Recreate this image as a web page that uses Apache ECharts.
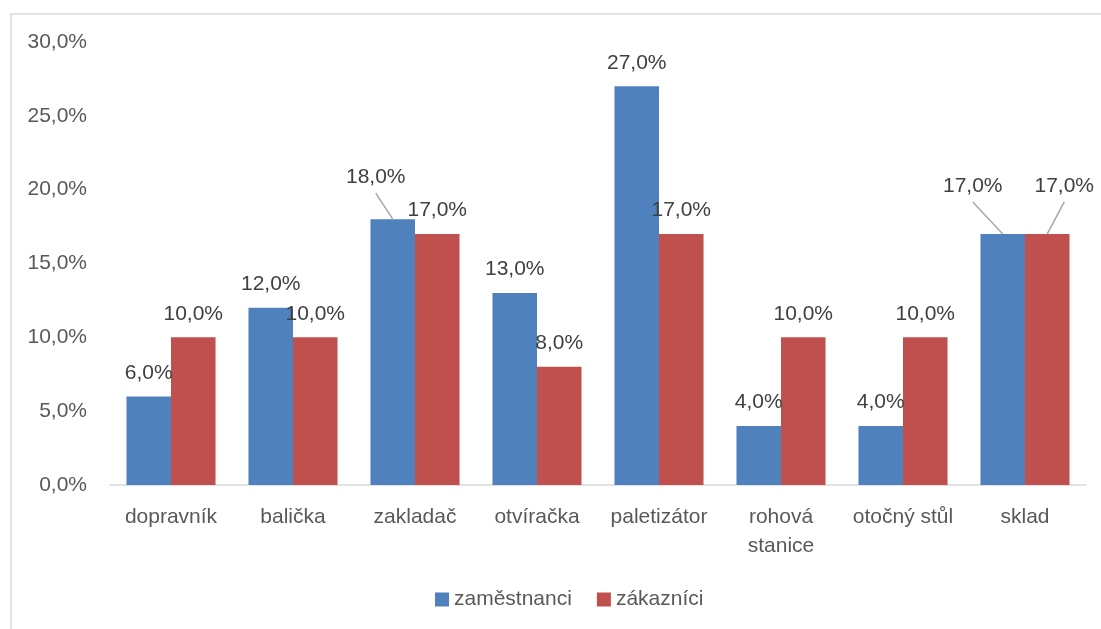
<!DOCTYPE html>
<html>
<head>
<meta charset="utf-8">
<script src="https://cdn.jsdelivr.net/npm/echarts@6/dist/echarts.min.js"></script>
<style>html,body{margin:0;padding:0;background:#fff}#c{width:1101px;height:629px}</style>
</head>
<body>
<div id="c"></div>
<script>
const categories = ['dopravník', 'balička', 'zakladač', 'otvíračka', 'paletizátor', 'rohová stanice', 'otočný stůl', 'sklad'];
const seriesNames = ['zaměstnanci', 'zákazníci'];
const zamestnanci = [6, 12, 18, 13, 27, 4, 4, 17];
const zakaznici = [10, 10, 17, 8, 17, 10, 10, 17];
const yTicks = { min: 0, max: 30, interval: 5 };

// manual label moves (series, index) -> offset
const labelMoves = { '0-2': [-17, -18], '0-7': [-30, -24], '1-7': [17, -24] };

const FONT = 'Liberation Sans';
const FS = 21;
const GAP = 0.27;
const DIST = 13;
const fmt = v => v.toFixed(1).replace('.', ',') + '%';

const chart = echarts.init(document.getElementById('c'), null, { renderer: 'canvas' });
const allValues = [zamestnanci, zakaznici];
const mkSeries = (si, name, data, color) => ({
  name: name,
  type: 'bar',
  data: data,
  barGap: '0%',
  barCategoryGap: (GAP * 100) + '%',
  itemStyle: { color: color },
  label: {
    show: true, position: 'top', distance: DIST,
    formatter: p => fmt(p.value),
    color: '#404040', fontSize: FS, fontFamily: FONT
  },
  labelLayout: function (p) {
    const m = labelMoves[p.seriesIndex + '-' + p.dataIndex];
    return m ? { dx: m[0], dy: m[1] } : {};
  }
});

// leader lines for moved labels: [categoryIndex, value, seriesIndex]
const leaderData = Object.keys(labelMoves).map(k => {
  const [s, i] = k.split('-').map(Number);
  return [i, allValues[s][i], s];
});

chart.setOption({
  animation: false,
  graphic: [{
    type: 'rect', shape: { x: 11, y: 14, width: 1100, height: 630 },
    style: { fill: 'none', stroke: '#d9d9d9', lineWidth: 1.5 }, silent: true
  }],
  grid: { left: 110, right: 15, top: 42, bottom: 144 },
  legend: {
    data: seriesNames, bottom: 14, left: 430, icon: 'rect',
    itemWidth: 14, itemHeight: 14, itemGap: 25,
    textStyle: { color: '#595959', fontSize: FS, fontFamily: FONT }
  },
  xAxis: {
    type: 'category', data: categories,
    axisLine: { lineStyle: { color: '#d9d9d9', width: 1.5 } },
    axisTick: { show: false },
    axisLabel: {
      color: '#595959', fontSize: FS, fontFamily: FONT, margin: 18,
      lineHeight: 29, interval: 0,
      formatter: v => v.length > 12 ? v.replace(' ', '\n') : v
    }
  },
  yAxis: {
    type: 'value', min: yTicks.min, max: yTicks.max, interval: yTicks.interval,
    splitLine: { show: false },
    axisLine: { show: false }, axisTick: { show: false },
    axisLabel: { color: '#595959', fontSize: FS, fontFamily: FONT, margin: 23, formatter: v => fmt(v) }
  },
  series: [
    mkSeries(0, seriesNames[0], zamestnanci, '#4f81bd'),
    mkSeries(1, seriesNames[1], zakaznici, '#c0504d'),
    {
      type: 'custom', silent: true, z: 5,
      data: leaderData,
      encode: { x: 0, y: 1 },
      renderItem: function (params, api) {
        const ci = api.value(0), v = api.value(1), s = api.value(2);
        const p = api.coord([ci, v]);
        const band = api.size([1, 0])[0];
        const bw = band * (1 - GAP) / 2;
        const bx = p[0] + (s === 0 ? -bw / 2 : bw / 2);
        const m = labelMoves[s + '-' + ci];
        const sx = bx + m[0];
        const sy = p[1] - DIST + m[1] + 5;
        return {
          type: 'line',
          shape: { x1: sx, y1: sy, x2: bx, y2: p[1] },
          style: { stroke: '#a6a6a6', lineWidth: 1.5 }
        };
      }
    }
  ]
});
</script>
</body>
</html>
